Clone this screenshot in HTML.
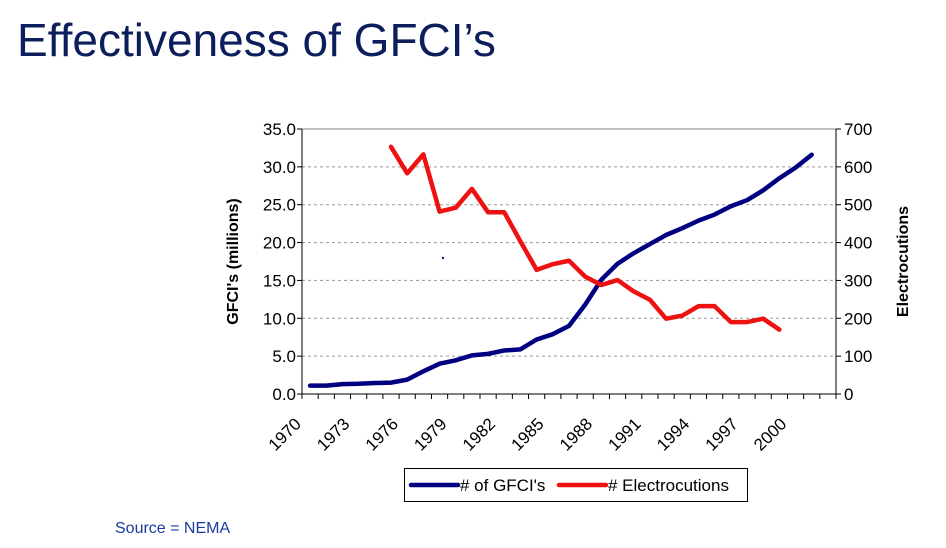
<!DOCTYPE html>
<html><head><meta charset="utf-8"><style>
html,body{margin:0;padding:0;background:#fff;width:946px;height:548px;overflow:hidden}
svg{display:block;font-family:"Liberation Sans",Arial,sans-serif}
</style></head><body>
<svg id="chart" width="946" height="548" viewBox="0 0 946 548">
<text x="17" y="56" font-size="46" fill="#0c1f5c">Effectiveness of GFCI’s</text>
<text x="115" y="533" font-size="16" fill="#1a3a9c">Source = NEMA</text>
<g id="plot"></g>
</svg>
<script>
const years = [];
for (let y = 1970; y <= 2002; y++) years.push(y);
const gfciYears = [1970,1971,1972,1973,1974,1975,1976,1977,1978,1979,1980,1981,1982,1983,1984,1985,1986,1987,1988,1989,1990,1991,1992,1993,1994,1995,1996,1997,1998,1999,2000,2001];
const gfciValues = [1.1,1.1,1.3,1.35,1.45,1.5,1.9,3.0,4.0,4.45,5.1,5.3,5.75,5.9,7.2,7.9,9.0,11.8,15.1,17.2,18.6,19.8,21.0,21.9,22.9,23.7,24.8,25.6,26.9,28.5,29.9,31.6];
const elecYears = [1975,1976,1977,1978,1979,1980,1981,1982,1983,1984,1985,1986,1987,1988,1989,1990,1991,1992,1993,1994,1995,1996,1997,1998,1999];
const elecValues = [653,583,633,482,492,542,480,480,403,328,343,352,310,288,301,271,249,199,207,232,232,190,190,199,170];
const leftTicks = ["0.0","5.0","10.0","15.0","20.0","25.0","30.0","35.0"];
const rightTicks = ["0","100","200","300","400","500","600","700"];
const yearLabels = [1970,1973,1976,1979,1982,1985,1988,1991,1994,1997,2000];

const NS = "http://www.w3.org/2000/svg";
const plotG = document.getElementById("plot");
const L = 302, R = 836, T = 129, B = 394;
const catW = (R - L) / years.length;
const xCat = yr => L + (years.indexOf(yr) + 0.5) * catW;
const xTick = i => L + i * catW;
const yLeft = v => B - v / 35 * (B - T);
const yRight = v => B - v / 700 * (B - T);
function el(tag, attrs) { const e = document.createElementNS(NS, tag); for (const k in attrs) e.setAttribute(k, attrs[k]); plotG.appendChild(e); return e; }

leftTicks.forEach((t, i) => {
  const y = yLeft(i * 5);
  if (i > 0 && i < 7) {
    const ln = el("line", {x1:L, x2:R, y1:y, y2:y, stroke:"#9a9a9a", "stroke-dasharray":"3,3", "stroke-width":1});
    
    
  }
  const tk = el("line", {x1:L-5, x2:L, y1:y, y2:y, stroke:"#000"});
  
  
  const tx = el("text", {x:L-6, y:y+6, "text-anchor":"end", "font-size":17});
  tx.textContent = t;
  
  
});
rightTicks.forEach((t, i) => {
  const y = yRight(i * 100);
  const tk = el("line", {x1:R, x2:R+5, y1:y, y2:y, stroke:"#000"});
  
  
  const tx = el("text", {x:R+8, y:y+6, "font-size":17});
  tx.textContent = t;
  
  
});
const topBorder = el("line", {x1:L, x2:R, y1:T, y2:T, stroke:"#808080", "stroke-width":1});


const la = el("line", {x1:L, x2:L, y1:T, y2:B, stroke:"#000"});


const ra = el("line", {x1:R, x2:R, y1:T, y2:B, stroke:"#000"});


const xa = el("line", {x1:L, x2:R, y1:B, y2:B, stroke:"#000"});


for (let i = 0; i <= years.length; i++) {
  const tk = el("line", {x1:xTick(i), x2:xTick(i), y1:B, y2:B+5, stroke:"#000"});
  
  
}
yearLabels.forEach(yr => {
  const x = xCat(yr) - 8, y = B + 31;
  const tx = el("text", {x:x, y:y, "text-anchor":"end", "font-size":17, transform:`rotate(-45 ${x} ${y})`});
  tx.textContent = yr;
  
  
});
const lt = el("text", {x:0, y:0, "text-anchor":"middle", "font-size":16, "font-weight":"bold", transform:`translate(238 ${(T+B)/2}) rotate(-90)`});
lt.textContent = "GFCI's (millions)";


const rt = el("text", {x:0, y:0, "text-anchor":"middle", "font-size":16, "font-weight":"bold", transform:`translate(908 ${(T+B)/2}) rotate(-90)`});
rt.textContent = "Electrocutions";


const dot = el("circle", {cx:443, cy:258, r:1.2, fill:"#1a1a80"});


const bp = el("polyline", {points: gfciYears.map((yr,i)=>`${xCat(yr)},${yLeft(gfciValues[i])}`).join(" "), fill:"none", stroke:"#000080", "stroke-width":4.5, "stroke-linejoin":"round", "stroke-linecap":"round"});


const rp = el("polyline", {points: elecYears.map((yr,i)=>`${xCat(yr)},${yRight(elecValues[i])}`).join(" "), fill:"none", stroke:"#ee1111", "stroke-width":4.5, "stroke-linejoin":"round", "stroke-linecap":"round"});


const lb = el("rect", {x:404.5, y:468.5, width:343, height:33, fill:"#fff", stroke:"#000"});


const l1 = el("line", {x1:411, x2:458, y1:485, y2:485, stroke:"#000080", "stroke-width":4.5, "stroke-linecap":"round"});


const t1 = el("text", {x:460, y:491, "font-size":17});
t1.textContent = "# of GFCI's";


const l2 = el("line", {x1:559, x2:606, y1:485, y2:485, stroke:"#ee1111", "stroke-width":4.5, "stroke-linecap":"round"});


const t2 = el("text", {x:608, y:491, "font-size":17});
t2.textContent = "# Electrocutions";


</script>
</body></html>
